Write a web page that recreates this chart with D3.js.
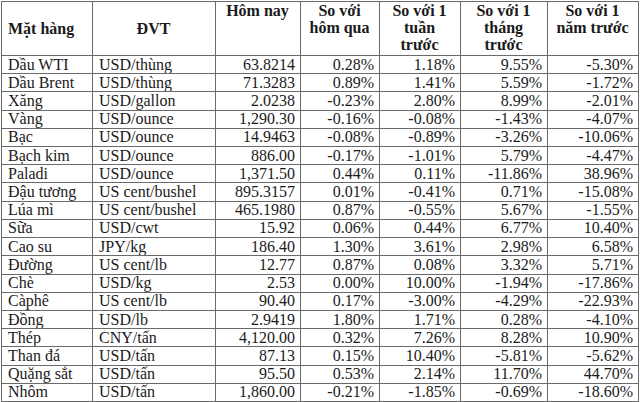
<!DOCTYPE html>
<html>
<head>
<meta charset="utf-8">
<script src="https://cdn.jsdelivr.net/npm/d3@7"></script>
<style>
  body { margin: 0; background: #fff; }
  svg text { font-family: "Liberation Serif", "Times New Roman", serif; fill: #1a1a1a; }
</style>
</head>
<body>
<div id="chart"></div>
<script>
// table data
const items = ["Dầu WTI", "Dầu Brent", "Xăng", "Vàng", "Bạc", "Bạch kim", "Paladi", "Đậu tương",
  "Lúa mì", "Sữa", "Cao su", "Đường", "Chè", "Càphê", "Đồng", "Thép", "Than đá", "Quặng sắt", "Nhôm"];
const units = ["USD/thùng", "USD/thùng", "USD/gallon", "USD/ounce", "USD/ounce", "USD/ounce", "USD/ounce",
  "US cent/bushel", "US cent/bushel", "USD/cwt", "JPY/kg", "US cent/lb", "USD/kg", "US cent/lb",
  "USD/lb", "CNY/tấn", "USD/tấn", "USD/tấn", "USD/tấn"];
const today = ["63.8214", "71.3283", "2.0238", "1,290.30", "14.9463", "886.00", "1,371.50", "895.3157",
  "465.1980", "15.92", "186.40", "12.77", "2.53", "90.40", "2.9419", "4,120.00", "87.13", "95.50", "1,860.00"];
const vsDay = [0.28, 0.89, -0.23, -0.16, -0.08, -0.17, 0.44, 0.01, 0.87, 0.06, 1.30, 0.87, 0.00, 0.17,
  1.80, 0.32, 0.15, 0.53, -0.21];
const vsWeek = [1.18, 1.41, 2.80, -0.08, -0.89, -1.01, 0.11, -0.41, -0.55, 0.44, 3.61, 0.08, 10.00, -3.00,
  1.71, 7.26, 10.40, 2.14, -1.85];
const vsMonth = [9.55, 5.59, 8.99, -1.43, -3.26, 5.79, -11.86, 0.71, 5.67, 6.77, 2.98, 3.32, -1.94, -4.29,
  0.28, 8.28, -5.81, 11.70, -0.69];
const vsYear = [-5.30, -1.72, -2.01, -4.07, -10.06, -4.47, 38.96, -15.08, -1.55, 10.40, 6.58, 5.71, -17.86,
  -22.93, -4.10, 10.90, -5.62, 44.70, -18.60];
const headers = [["Mặt hàng"], ["ĐVT"], ["Hôm nay"], ["So với", "hôm qua"], ["So với 1", "tuần", "trước"],
  ["So với 1", "tháng", "trước"], ["So với 1", "năm trước"]];

const width = 640, height = 402;
const colEdges = [1, 92, 215, 300, 379, 460, 547, 638];
const headTop = 1, headBottom = 55, tableBottom = 401;

// plain hyphen for negatives, like the excel sheet
const locale = d3.formatLocale({decimal: ".", thousands: ",", grouping: [3], currency: ["$", ""], minus: "-"});
const pct = d => locale.format(".2f")(d) + "%";
const rows = items.map((name, i) => [name, units[i], today[i], pct(vsDay[i]), pct(vsWeek[i]),
  pct(vsMonth[i]), pct(vsYear[i])]);

const y = d3.scaleBand().domain(d3.range(items.length)).range([headBottom, tableBottom]);

const svg = d3.select("#chart").append("svg")
  .attr("width", width)
  .attr("height", height);

svg.append("rect").attr("width", width).attr("height", height).attr("fill", "#fff");

// header text
const head = svg.append("g").attr("class", "header");
headers.forEach((lines, c) => {
  let x0 = colEdges[c], x1 = colEdges[c + 1];
  let left = c === 0;
  let base = lines.length === 1 && c < 2 ? [34] : [16, 33, 50];
  lines.forEach((ln, k) => {
    head.append("text")
      .attr("x", left ? x0 + 7 : (x0 + x1) / 2)
      .attr("y", base[k])
      .attr("text-anchor", left ? "start" : "middle")
      .attr("font-weight", "bold")
      .attr("font-size", "16px")
      .text(ln);
  });
});

// body cells
const body = svg.append("g").attr("class", "body");
const rowG = body.selectAll("g").data(rows).join("g")
  .attr("transform", (d, i) => `translate(0,${y(i)})`);

rowG.selectAll("text").data(d => d).join("text")
  .attr("x", (d, c) => c < 2 ? colEdges[c] + 7 : colEdges[c + 1] - 5)
  .attr("y", y.bandwidth() / 2 + 5.5)
  .attr("text-anchor", (d, c) => c < 2 ? "start" : "end")
  .attr("font-size", "16px")
  .text(d => d);

// grid
const grid = svg.append("g").attr("stroke", "#6a6a6a").attr("stroke-width", 1).attr("shape-rendering", "crispEdges");
grid.selectAll("line.v").data(colEdges).join("line")
  .attr("class", "v")
  .attr("x1", d => d + 0.5).attr("x2", d => d + 0.5)
  .attr("y1", headTop).attr("y2", tableBottom + 1);
let hLines = [headTop, headBottom].concat(d3.range(1, items.length).map(i => y(i)), [tableBottom]);
grid.selectAll("line.h").data(hLines).join("line")
  .attr("class", "h")
  .attr("x1", colEdges[0]).attr("x2", colEdges[colEdges.length - 1] + 1)
  .attr("y1", d => Math.round(d) + 0.5).attr("y2", d => Math.round(d) + 0.5);
</script>
</body>
</html>
